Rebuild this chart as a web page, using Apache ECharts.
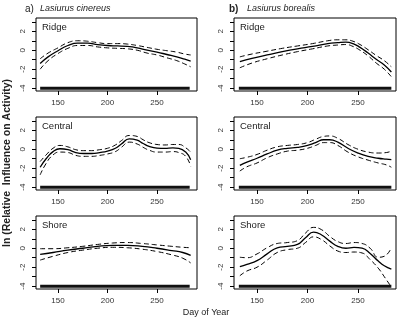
<!DOCTYPE html>
<html>
<head>
<meta charset="utf-8">
<script src="https://cdn.jsdelivr.net/npm/echarts@6/dist/echarts.min.js"></script>
<style>
html,body{margin:0;padding:0;background:#fff;}
#main{width:400px;height:319px;}
</style>
</head>
<body>
<div id="main"></div>
<script>
// axis ticks / labels
var xTicks=[150,200,250];
var yLabels=[-4,-2,0,2];
var yTicks=[-4,-3,-2,-1,0,1,2,3];
var rugDays=[132,283];
var rugLevel=-4;

// a) Lasiurus cinereus - Ridge
var ridgeCinDays=[132,140,150,160,170,180,190,200,210,220,230,240,250,260,270,278,284];
var ridgeCinFit=[-1.4,-0.7,-0.05,0.5,0.75,0.75,0.6,0.5,0.45,0.4,0.25,0.0,-0.2,-0.45,-0.7,-0.95,-1.15];
var ridgeCinUp=[-0.9,-0.3,0.25,0.8,1.0,0.95,0.8,0.7,0.7,0.65,0.5,0.3,0.1,-0.05,-0.2,-0.4,-0.5];
var ridgeCinLo=[-2.0,-1.1,-0.35,0.2,0.5,0.5,0.35,0.25,0.2,0.15,0.0,-0.3,-0.5,-0.8,-1.1,-1.45,-1.75];

// a) Lasiurus cinereus - Central
var centralCinDays=[132,138,145,152,160,168,176,184,192,200,208,214,222,230,236,242,250,258,266,272,279,284];
var centralCinFit=[-1.9,-1.0,-0.25,0.05,-0.05,-0.35,-0.45,-0.45,-0.35,-0.2,0.1,0.55,1.1,0.95,0.6,0.3,0.12,0.1,0.15,0.1,-0.3,-1.1];
var centralCinUp=[-1.3,-0.6,0.1,0.4,0.25,-0.05,-0.15,-0.15,-0.05,0.1,0.45,0.9,1.45,1.35,1.0,0.7,0.5,0.45,0.5,0.5,0.15,-0.3];
var centralCinLo=[-2.7,-1.5,-0.6,-0.3,-0.35,-0.65,-0.75,-0.75,-0.65,-0.5,-0.25,0.2,0.75,0.55,0.2,-0.1,-0.3,-0.3,-0.25,-0.35,-0.75,-1.8];

// a) Lasiurus cinereus - Shore
var shoreCinDays=[132,145,160,175,190,205,220,235,250,265,276,284];
var shoreCinFit=[-0.65,-0.45,-0.2,0.0,0.2,0.3,0.3,0.2,0.0,-0.25,-0.45,-0.75];
var shoreCinUp=[-0.05,-0.05,0.05,0.2,0.4,0.55,0.6,0.5,0.35,0.2,0.1,0.05];
var shoreCinLo=[-1.25,-0.85,-0.45,-0.2,0.0,0.1,0.05,-0.1,-0.35,-0.7,-1.05,-1.55];

// b) Lasiurus borealis - Ridge
var ridgeBorDays=[133,145,160,175,190,205,220,230,238,245,252,260,268,276,283];
var ridgeBorFit=[-1.2,-0.85,-0.5,-0.15,0.15,0.4,0.7,0.8,0.85,0.7,0.3,-0.3,-0.95,-1.55,-2.3];
var ridgeBorUp=[-0.7,-0.4,-0.1,0.2,0.45,0.7,1.0,1.1,1.1,0.95,0.6,0.05,-0.55,-1.1,-1.75];
var ridgeBorLo=[-1.85,-1.35,-0.9,-0.5,-0.15,0.15,0.45,0.55,0.6,0.4,0.0,-0.6,-1.35,-2.0,-2.8];

// b) Lasiurus borealis - Central
var centralBorDays=[133,140,150,160,170,180,190,200,208,216,222,230,240,250,260,270,278,283];
var centralBorFit=[-1.7,-1.35,-0.95,-0.5,-0.1,0.1,0.2,0.4,0.7,1.0,1.0,0.75,0.1,-0.4,-0.75,-0.95,-1.05,-1.1];
var centralBorUp=[-1.0,-0.85,-0.55,-0.1,0.25,0.4,0.5,0.7,1.05,1.35,1.4,1.15,0.5,0.0,-0.3,-0.4,-0.35,-0.2];
var centralBorLo=[-2.3,-1.85,-1.45,-0.9,-0.5,-0.2,-0.1,0.1,0.4,0.7,0.7,0.4,-0.3,-0.8,-1.15,-1.45,-1.65,-1.9];

// b) Lasiurus borealis - Shore
var shoreBorDays=[133,140,150,160,170,180,190,198,206,214,222,230,238,246,254,262,270,276,283];
var shoreBorFit=[-1.95,-1.7,-1.3,-0.6,0.05,0.2,0.4,1.1,1.7,1.4,0.75,0.2,0.0,0.1,0.0,-0.55,-1.35,-1.85,-2.2];
var shoreBorUp=[-0.95,-1.0,-0.6,0.05,0.5,0.6,0.8,1.6,2.2,1.95,1.25,0.7,0.5,0.6,0.5,0.0,-0.95,-0.85,0.05];
var shoreBorLo=[-2.9,-2.4,-2.0,-1.25,-0.45,-0.15,0.0,0.6,1.2,0.9,0.25,-0.3,-0.45,-0.4,-0.5,-1.2,-2.1,-3.0,-4.1];

var panelNames=['Ridge','Central','Shore'];

var fontFam='"Liberation Sans", Arial, sans-serif';

function pairs(days,vals)
{
	var out=[];
	for(var i=0;i<days.length;i++)
	{
		out.push([days[i],vals[i]]);
	}
	return out;
}

var panels=[
	{days:ridgeCinDays,fit:ridgeCinFit,up:ridgeCinUp,lo:ridgeCinLo},
	{days:centralCinDays,fit:centralCinFit,up:centralCinUp,lo:centralCinLo},
	{days:shoreCinDays,fit:shoreCinFit,up:shoreCinUp,lo:shoreCinLo},
	{days:ridgeBorDays,fit:ridgeBorFit,up:ridgeBorUp,lo:ridgeBorLo},
	{days:centralBorDays,fit:centralBorFit,up:centralBorUp,lo:centralBorLo},
	{days:shoreBorDays,fit:shoreBorFit,up:shoreBorUp,lo:shoreBorLo}
];

var grids=[],xAxes=[],yAxes=[],series=[],graphics=[];
var colLeft=[36,234], colWidth=[161,162];
var colXMin=[127.8,127.2], colXMax=[290.4,287.6];
var rowTop=[18,117,216], rowHeight=73;

for(var p=0;p<6;p++)
{
	var col=Math.floor(p/3), row=p%3;
	grids.push({left:colLeft[col],top:rowTop[row],width:colWidth[col],height:rowHeight,
		show:true,borderColor:'#000',borderWidth:1,containLabel:false,outerBoundsMode:'none'});
	xAxes.push({type:'value',gridIndex:p,min:colXMin[col],max:colXMax[col],position:'bottom',
		axisLine:{show:false,onZero:false},splitLine:{show:false},
		axisTick:{show:true,length:4,lineStyle:{color:'#000'},customValues:xTicks},
		axisLabel:{show:true,color:'#333',fontSize:8,fontFamily:fontFam,margin:8,customValues:xTicks}});
	yAxes.push({type:'value',gridIndex:p,min:-4.3,max:3.4,position:'left',
		axisLine:{show:false,onZero:false},splitLine:{show:false},
		axisTick:{show:true,length:4,lineStyle:{color:'#000'},customValues:yTicks},
		axisLabel:{show:true,color:'#333',fontSize:8,fontFamily:fontFam,margin:9,rotate:90,customValues:yLabels}});

	var d=panels[p];
	series.push({type:'line',xAxisIndex:p,yAxisIndex:p,data:pairs(d.days,d.fit),smooth:true,
		showSymbol:false,silent:true,lineStyle:{color:'#000',width:1.3}});
	series.push({type:'line',xAxisIndex:p,yAxisIndex:p,data:pairs(d.days,d.up),smooth:true,
		showSymbol:false,silent:true,lineStyle:{color:'#000',width:1,type:[5,3]}});
	series.push({type:'line',xAxisIndex:p,yAxisIndex:p,data:pairs(d.days,d.lo),smooth:true,
		showSymbol:false,silent:true,lineStyle:{color:'#000',width:1,type:[5,3]}});
	// rug of observation days
	series.push({type:'line',xAxisIndex:p,yAxisIndex:p,data:[[rugDays[0],rugLevel],[rugDays[1],rugLevel]],
		showSymbol:false,silent:true,lineStyle:{color:'#111',width:3}});

	graphics.push({type:'text',left:colLeft[col]+6,top:rowTop[row]+4,
		style:{text:panelNames[row],fontSize:9.5,fontFamily:fontFam,fill:'#222'}});
}

// headers
graphics.push({type:'text',left:25,top:4,style:{text:'a)',fontSize:10,fontFamily:fontFam,fill:'#222'}});
graphics.push({type:'text',left:40,top:4,style:{text:'Lasiurus cinereus',fontSize:9,fontStyle:'italic',fontFamily:fontFam,fill:'#222'}});
graphics.push({type:'text',left:229,top:4,style:{text:'b)',fontSize:10,fontWeight:'bold',fontFamily:fontFam,fill:'#222'}});
graphics.push({type:'text',left:247,top:4,style:{text:'Lasiurus borealis',fontSize:9,fontStyle:'italic',fontFamily:fontFam,fill:'#222'}});
// axis titles
graphics.push({type:'text',x:7,y:163,rotation:Math.PI/2,
	style:{text:'ln (Relative  Influence on Activity)',fontSize:10.5,fontWeight:'bold',fontFamily:fontFam,fill:'#222',align:'center',verticalAlign:'middle'}});
graphics.push({type:'text',x:206,y:313,
	style:{text:'Day of Year',fontSize:9,fontFamily:fontFam,fill:'#222',align:'center',verticalAlign:'middle'}});

var myChart=echarts.init(document.getElementById('main'),null,{renderer:'canvas'});
myChart.setOption({
	animation:false,
	backgroundColor:'#fff',
	grid:grids,
	xAxis:xAxes,
	yAxis:yAxes,
	series:series,
	graphic:graphics
});
</script>
</body>
</html>
